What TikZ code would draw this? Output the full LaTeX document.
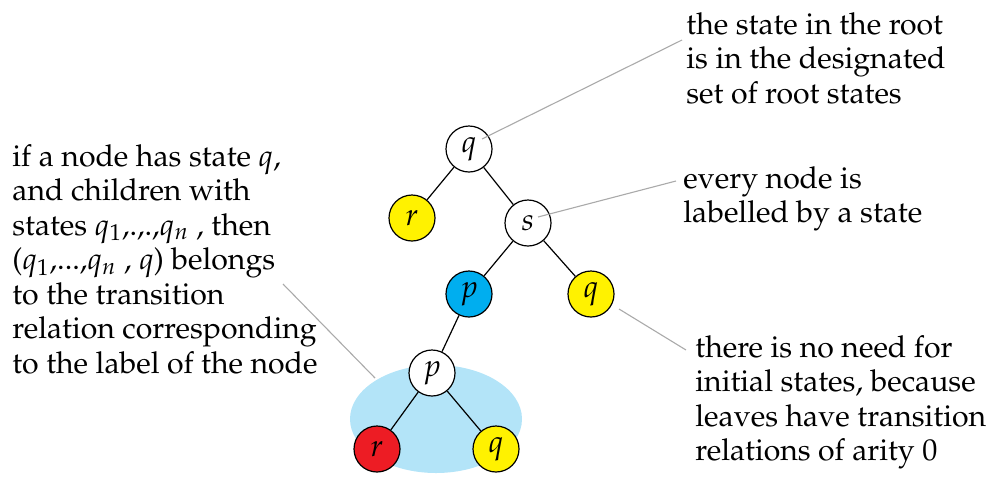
\documentclass[tikz,border=0pt]{standalone}
\usepackage[T1]{fontenc}
\usepackage{mathpazo}
\usetikzlibrary{shapes.geometric}
\definecolor{tyellow}{HTML}{FFF200}
\definecolor{tblue}{HTML}{00AEEF}
\definecolor{tred}{HTML}{ED1C24}
\definecolor{tblob}{HTML}{B3E4F8}
\definecolor{tgray}{HTML}{AAAAAA}
\begin{document}
\begin{tikzpicture}[x=0.5pt,y=-0.5pt,
  st/.style={circle,draw=black,line width=0.6pt,minimum size=23pt,inner sep=0pt,font=\fontsize{15.5}{17}\selectfont},
  edge/.style={draw=black,line width=0.6pt},
  callout/.style={draw=tgray,line width=0.55pt},
  note/.style={anchor=north west,inner sep=0pt,align=left,font=\fontsize{15.1}{17.25}\selectfont}]
\useasboundingbox (0,0) rectangle (994,483);
\node (blob) [ellipse,fill=tblob,minimum width=86pt,minimum height=54pt,inner sep=0pt] at (436,419) {};
\node (n1) [st,fill=white] at (469,149) {$q$};
\node (n2) [st,fill=tyellow] at (412,218) {$r$};
\node (n3) [st,fill=white] at (528,223) {$s$};
\node (n4) [st,fill=tblue] at (469,294) {$p$};
\node (n5) [st,fill=tyellow] at (591,294) {$q$};
\node (n6) [st,fill=white] at (432,373) {$p$};
\node (n7) [st,fill=tred] at (377,449) {$r$};
\node (n8) [st,fill=tyellow] at (496,449) {$q$};
\draw[edge] (n1) -- (n2);
\draw[edge] (n1) -- (n3);
\draw[edge] (n3) -- (n4);
\draw[edge] (n3) -- (n5);
\draw[edge] (n4) -- (n6);
\draw[edge] (n6) -- (n7);
\draw[edge] (n6) -- (n8);
\node (t1) [note] at (686,12) {the state in the root\\is in the designated\\set of root states};
\node (t2) [note] at (683,166) {every node is\\labelled by a state};
\node (t3) [note] at (695,335) {there is no need for\\initial states, because\\leaves have transition\\relations of arity 0};
\node (t4) [note] at (12,144) {if a node has state $q$,\\and children with\\states $q_1$,.,.,$q_n$ , then\\($q_1$,...,$q_n$ , $q$) belongs\\to the transition\\relation corresponding\\to the label of the node};
\coordinate (c1a) at (482,139);
\coordinate (c1b) at (682,40);
\coordinate (c2a) at (538,217);
\coordinate (c2b) at (676,181);
\coordinate (c3a) at (619,309);
\coordinate (c3b) at (686,350);
\coordinate (c4a) at (375,378);
\coordinate (c4b) at (283,284);
\draw[callout] (c1a) -- (c1b);
\draw[callout] (c2a) -- (c2b);
\draw[callout] (c3a) -- (c3b);
\draw[callout] (c4a) -- (c4b);
\end{tikzpicture}
\end{document}
